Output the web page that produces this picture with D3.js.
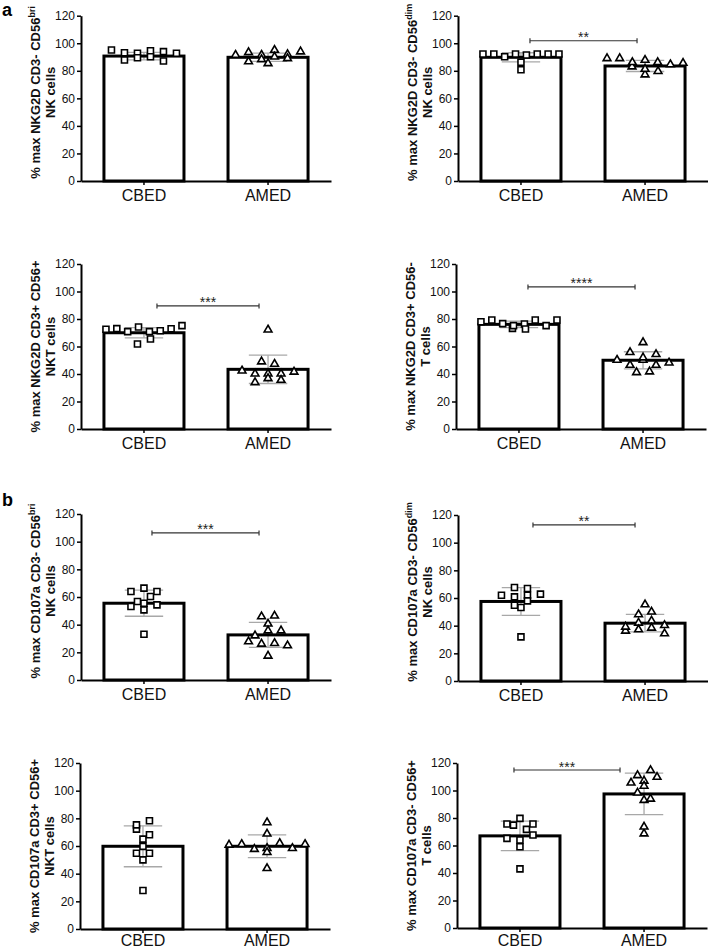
<!DOCTYPE html>
<html><head><meta charset="utf-8">
<script src="https://cdn.jsdelivr.net/npm/d3@7"></script>
<style>body{margin:0;background:#fff} svg{display:block}</style>
</head><body><svg id="chart" width="708" height="950"></svg>
<script>
const categories = ["CBED", "AMED"];
const yTicks = [0, 20, 40, 60, 80, 100, 120];
const titleMain = ["% max NKG2D CD3- CD56", "% max NKG2D CD3- CD56", "% max NKG2D CD3+ CD56+", "% max NKG2D CD3+ CD56-",
                   "% max CD107a CD3- CD56", "% max CD107a CD3- CD56", "% max CD107a CD3+ CD56+", "% max CD107a CD3- CD56+"];
const titleSup = ["bri", "dim", "", "", "bri", "dim", "", ""];
const titleSub = ["NK cells", "NK cells", "NKT cells", "T cells", "NK cells", "NK cells", "NKT cells", "T cells"];
const panelLetters = ["a", "b"];

const cbedValues = [
  [95.1, 93.1, 87.8, 92.7, 94.6, 89.5, 90.2, 93.9, 87.1, 92.7],
  [92.2, 92.2, 90.2, 92.2, 80.8, 91.5, 86.2, 92.2, 92.2, 92.2],
  [72.5, 73, 70.8, 74.2, 61.8, 70.8, 65.5, 71.5, 72.9, 75.2],
  [78, 79.3, 73.2, 76.6, 75.2, 76.4, 79.3, 72.7, 75.2, 79.3],
  [64, 56.8, 66.4, 60.4, 53.1, 33.1, 64, 55.5, 50.7, 54.3],
  [67.6, 62.0, 66.9, 60.8, 54.8, 31.9, 62.0, 53.1, 62.8, 57.9],
  [72.2, 54.8, 75.3, 65, 59.7, 50, 27.8, 78.2, 68.1, 54.8],
  [75.6, 65.2, 74.8, 59.1, 43, 79.7, 71.7, 64, 75.6, 67.6]
];
const amedValues = [
  [91.5, 93.4, 86.7, 91.5, 95.1, 88.3, 90.2, 91.9, 85.4, 89, 93.9],
  [89.0, 89.0, 83.0, 86.2, 77.2, 87.8, 81.3, 86.2, 79.7, 84.6, 85.6],
  [42.4, 49, 40.2, 33.9, 72.2, 40.2, 36.8, 47.3, 40.2, 35.6, 41.5],
  [55.8, 50.2, 46.5, 41.2, 63, 50.2, 51.9, 46.5, 41.7, 54.3, 48.2],
  [40.6, 27.8, 45.9, 32.1, 26.1, 17.4, 46.4, 35.7, 26.6, 35.7, 24.9],
  [36.2, 48.1, 39.1, 55.3, 50, 42, 37.2, 43.5, 38.4, 40.3, 34.3],
  [60.8, 61.3, 57.7, 77, 68.8, 58.4, 43.9, 62, 55.5, 58.4, 61.3],
  [111, 105.6, 68.6, 114.7, 107, 98.3, 93, 73.6, 109.8, 103.3, 93.9]
];
const cbedMean = [90.7, 89.8, 70, 76.1, 55.5, 57.5, 59.8, 67];
const cbedSD   = [2.7, 3.3, 3.7, 2.3, 9.4, 10, 14.8, 10.7];
const amedMean = [89.8, 83.5, 43.4, 50, 32.6, 41.8, 59.8, 97.5];
const amedSD   = [3, 4, 10.3, 6.2, 9, 6.3, 8.2, 15.1];
const sigLevel = [null, 101.8, 89.5, 103.3, 106.3, 112.8, null, 114.9];
const sigLabel = ["", "**", "***", "****", "***", "**", "", "***"];

// ---- layout (positions only) ----
const layout = [
  {x0: 81,  x1: 331, yTop: 15.7, yBot: 181, sig: null, lab: 5},
  {x0: 458, x1: 708, yTop: 15.7, yBot: 181, sig: [9, -8], lab: 5},
  {x0: 81,  x1: 331, yTop: 264,  yBot: 429, sig: [13, -9], lab: 5},
  {x0: 456, x1: 706, yTop: 264,  yBot: 429, sig: [9, -8], lab: 5},
  {x0: 81,  x1: 331, yTop: 514,  yBot: 680, sig: [8, -9], lab: 5},
  {x0: 458, x1: 708, yTop: 515,  yBot: 681, sig: [12, -10], lab: 5},
  {x0: 80,  x1: 330, yTop: 763,  yBot: 929, sig: null, lab: 2},
  {x0: 457, x1: 707, yTop: 763,  yBot: 928, sig: [-6, -24], lab: 2.5}
];
const letterPos = [{x: 2, y: 16}, {x: 2, y: 506}];
const FONT = "'Liberation Sans', Arial, Helvetica, sans-serif";

const svg = d3.select("#chart");
svg.append("rect").attr("width", 708).attr("height", 950).attr("fill", "#fff");

function swarm(vals, cx, y, bw) {
  const items = vals.map((v, i) => ({v, i, py: y(v)}));
  const sorted = items.slice().sort((a, b) => a.py - b.py);
  const rows = []; let cur = null;
  sorted.forEach(p => {
    if (!cur || p.py - cur[0].py > 6.5) { cur = [p]; rows.push(cur); } else cur.push(p);
  });
  rows.forEach(r => {
    r.sort((a, b) => a.i - b.i);
    const k = r.length;
    const s = k > 1 ? Math.min(13, (bw - 4) / (k - 1)) : 0;
    r.forEach((p, j) => p.px = cx + (j - (k - 1) / 2) * s);
  });
  return items;
}

layout.forEach((L, i) => {
  const g = svg.append("g");
  const x = d3.scaleBand().domain(categories).range([L.x0, L.x1]).paddingInner(0.355).paddingOuter(0.185);
  const y = d3.scaleLinear().domain([0, 120]).range([L.yBot, L.yTop]);
  const bw = x.bandwidth();
  const groups = [
    {cat: "CBED", vals: cbedValues[i], mean: cbedMean[i], sd: cbedSD[i], shape: d3.symbolSquare, size: 36},
    {cat: "AMED", vals: amedValues[i], mean: amedMean[i], sd: amedSD[i], shape: d3.symbolTriangle, size: 26}
  ];
  const cx = d => x(d.cat) + bw / 2;

  // bar fills
  g.selectAll(".bf").data(groups).join("rect")
    .attr("x", d => x(d.cat)).attr("y", d => y(d.mean))
    .attr("width", bw).attr("height", d => y(0) - y(d.mean)).attr("fill", "#fff");

  // error bars
  const eb = g.selectAll(".eb").data(groups).join("g").attr("stroke", "#a8a8a8").attr("stroke-width", 1.3);
  const capW = bw * 0.24;
  eb.append("line").attr("x1", cx).attr("x2", cx).attr("y1", d => y(d.mean - d.sd)).attr("y2", d => y(d.mean + d.sd));
  eb.append("line").attr("x1", d => cx(d) - capW).attr("x2", d => cx(d) + capW).attr("y1", d => y(d.mean + d.sd)).attr("y2", d => y(d.mean + d.sd));
  eb.append("line").attr("x1", d => cx(d) - capW).attr("x2", d => cx(d) + capW).attr("y1", d => y(d.mean - d.sd)).attr("y2", d => y(d.mean - d.sd));

  // bar outlines
  g.selectAll(".bo").data(groups).join("rect")
    .attr("x", d => x(d.cat)).attr("y", d => y(d.mean))
    .attr("width", bw).attr("height", d => y(0) - y(d.mean))
    .attr("fill", "none").attr("stroke", "#000").attr("stroke-width", 3);

  // axes
  const ya = g.append("g").attr("transform", `translate(${L.x0},0)`)
    .call(d3.axisLeft(y).tickValues(yTicks).tickSize(4).tickSizeOuter(0).tickPadding(2));
  ya.select(".domain").attr("stroke", "#000").attr("stroke-width", 2);
  ya.selectAll(".tick line").attr("stroke", "#000").attr("stroke-width", 1.5);
  ya.selectAll(".tick text").attr("font-family", FONT).attr("font-size", 12).attr("fill", "#111");

  const xa = g.append("g").attr("transform", `translate(0,${L.yBot})`)
    .call(d3.axisBottom(x).tickSize(4).tickSizeOuter(0).tickPadding(L.lab));
  xa.select(".domain").attr("stroke", "#000").attr("stroke-width", 2);
  xa.selectAll(".tick line").attr("stroke", "#000").attr("stroke-width", 1.5);
  xa.selectAll(".tick text").attr("font-family", FONT).attr("font-size", 16).attr("fill", "#111");

  // points
  groups.forEach(gr => {
    const pts = swarm(gr.vals, cx(gr), y, bw);
    g.append("g").selectAll("path").data(pts).join("path")
      .attr("transform", p => `translate(${p.px},${p.py})`)
      .attr("d", d3.symbol().type(gr.shape).size(gr.size))
      .attr("fill", "#fff").attr("stroke", "#000").attr("stroke-width", 1.6);
  });

  // significance
  if (sigLevel[i] != null) {
    const sy = y(sigLevel[i]);
    const xa1 = cx(groups[0]) + L.sig[0], xa2 = cx(groups[1]) + L.sig[1];
    const sg = g.append("g").attr("stroke", "#333").attr("stroke-width", 1.2);
    sg.append("line").attr("x1", xa1).attr("x2", xa2).attr("y1", sy).attr("y2", sy);
    sg.append("line").attr("x1", xa1).attr("x2", xa1).attr("y1", sy - 2.5).attr("y2", sy + 2.5);
    sg.append("line").attr("x1", xa2).attr("x2", xa2).attr("y1", sy - 2.5).attr("y2", sy + 2.5);
    g.append("text").attr("x", (xa1 + xa2) / 2).attr("y", sy + 1.5)
      .attr("text-anchor", "middle").attr("font-family", FONT).attr("font-size", 14).attr("fill", "#222")
      .text(sigLabel[i]);
  }

  // y titles
  const yc = (L.yTop + L.yBot) / 2 - (titleSup[i] ? 6 : 0);
  const t1 = g.append("text").attr("transform", `translate(${L.x0 - 41.5},${yc}) rotate(-90)`)
    .attr("text-anchor", "middle").attr("font-family", FONT).attr("font-weight", "bold")
    .attr("font-size", 13).attr("fill", "#111");
  t1.append("tspan").text(titleMain[i]);
  if (titleSup[i]) t1.append("tspan").attr("font-size", 9).attr("dy", -5).text(titleSup[i]);
  g.append("text").attr("transform", `translate(${L.x0 - 26.5},${yc}) rotate(-90)`)
    .attr("text-anchor", "middle").attr("font-family", FONT).attr("font-weight", "bold")
    .attr("font-size", 13).attr("fill", "#111").text(titleSub[i]);
});

svg.selectAll(".letter").data(panelLetters).join("text")
  .attr("x", (d, i) => letterPos[i].x).attr("y", (d, i) => letterPos[i].y)
  .attr("font-family", FONT).attr("font-weight", "bold").attr("font-size", 18).attr("fill", "#000")
  .text(d => d);
</script></body></html>
